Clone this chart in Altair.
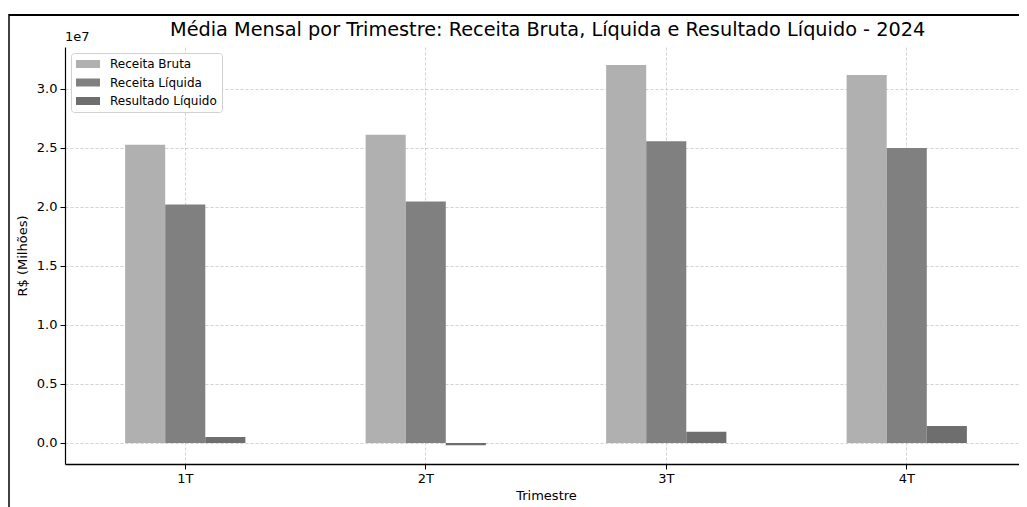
import altair as alt
import pandas as pd

trimestres = ["1T", "2T", "3T", "4T"]
series = ["Receita Bruta", "Receita Líquida", "Resultado Líquido"]
receita_bruta = [25.25e6, 26.1e6, 32.0e6, 31.15e6]
receita_liquida = [20.2e6, 20.45e6, 25.55e6, 24.97e6]
resultado_liquido = [0.51e6, -0.2e6, 0.95e6, 1.44e6]
cores = ["#b0b0b0", "#808080", "#6e6e6e"]
y_ticks = [0, 5e6, 10e6, 15e6, 20e6, 25e6, 30e6]

rows = []
for s, vals in zip(series, [receita_bruta, receita_liquida, resultado_liquido]):
    for t, v in zip(trimestres, vals):
        rows.append({"Trimestre": t, "Serie": s, "Valor": v})
df = pd.DataFrame(rows)

FONT = "DejaVu Sans"
W, H = 954, 417

bars = alt.Chart(df).mark_bar().encode(
    x=alt.X("Trimestre:N", sort=trimestres,
            scale=alt.Scale(paddingInner=0.5, paddingOuter=0.25, range=[0, 962]),
            axis=alt.Axis(title="Trimestre", labelAngle=0, grid=True,
                          gridDash=[3, 2], gridColor="#c8c8c8", gridWidth=0.8,
                          tickSize=5, tickColor="black", labelPadding=3,
                          titlePadding=4, titleX=481)),
    xOffset=alt.XOffset("Serie:N", sort=series,
                        scale=alt.Scale(paddingInner=0, paddingOuter=0)),
    y=alt.Y("Valor:Q",
            scale=alt.Scale(domain=[-0.178e7, 3.353e7], nice=False, zero=False),
            axis=alt.Axis(title="R$ (Milhões)", values=y_ticks,
                          labelExpr="format(datum.value/1e7, '.1f')",
                          grid=True, gridDash=[3, 2], gridColor="#c8c8c8",
                          gridWidth=0.8, tickSize=5, tickColor="black",
                          labelPadding=3, titlePadding=7)),
    y2=alt.datum(0),
    color=alt.Color("Serie:N", sort=series,
                    scale=alt.Scale(domain=series, range=cores),
                    legend=alt.Legend(title=None, orient="none", legendX=6, legendY=6,
                                      symbolType="M-1,-0.33L1,-0.33L1,0.33L-1,0.33Z",
                                      symbolSize=576, symbolStrokeWidth=0,
                                      labelFontSize=12, labelFont=FONT,
                                      clipHeight=12, rowPadding=6.5,
                                      padding=5, fillColor="white",
                                      strokeColor="#d0d0d0", cornerRadius=3,
                                      labelOffset=10)),
)

offset_text = alt.Chart(pd.DataFrame({"t": ["1e7"]})).mark_text(
    align="left", baseline="middle", fontSize=13, font=FONT, color="black"
).encode(x=alt.value(0), y=alt.value(-10), text="t:N")

frame_top = alt.Chart(pd.DataFrame({"a": [0]})).mark_rule(color="black", strokeWidth=2).encode(
    x=alt.value(-56), x2=alt.value(W + 10), y=alt.value(-32))
frame_left = alt.Chart(pd.DataFrame({"a": [0]})).mark_rule(color="black", strokeWidth=1.5).encode(
    x=alt.value(-56), y=alt.value(-33), y2=alt.value(470))

chart = alt.layer(bars, offset_text, frame_top, frame_left).properties(
    width=W, height=H,
    title=alt.TitleParams("Média Mensal por Trimestre: Receita Bruta, Líquida e Resultado Líquido - 2024",
                          fontSize=19.3, font=FONT, fontWeight="normal", color="black",
                          anchor="start", dx=105, offset=-27, frame="group"),
    autosize=alt.AutoSizeParams(type="none"),
    padding={"left": 57, "top": 39, "right": 0, "bottom": 43},
).configure_view(stroke=None).configure_axis(
    labelFont=FONT, titleFont=FONT, labelFontSize=13, titleFontSize=13,
    labelColor="black", titleColor="black", titleFontWeight="normal",
    domainColor="black", domainWidth=1.2,
).configure_axisX(domainWidth=1.5)

chart.save("out.html", embed_options={"renderer": "svg", "actions": False})
